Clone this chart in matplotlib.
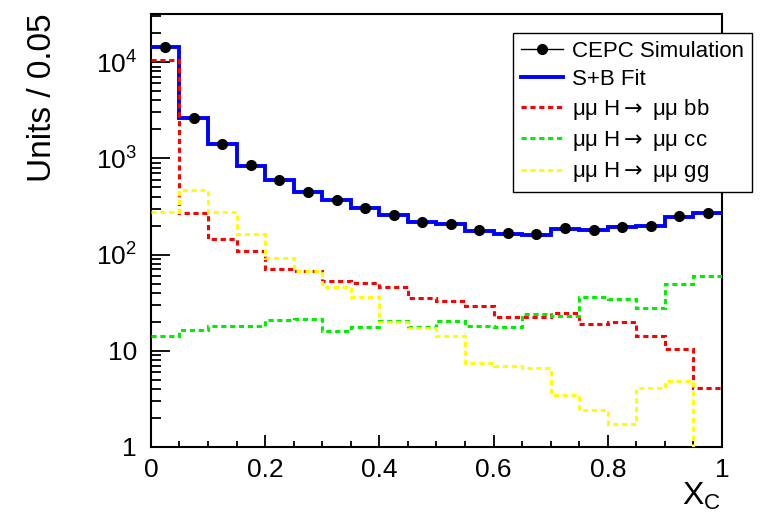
import numpy as np
import matplotlib
matplotlib.use("Agg")
import matplotlib.pyplot as plt
from matplotlib.lines import Line2D
from matplotlib.ticker import FixedLocator, LogLocator, FuncFormatter, MultipleLocator

plt.rcParams["font.family"] = ["Liberation Sans", "DejaVu Sans"]
plt.rcParams["mathtext.fontset"] = "custom"
plt.rcParams["mathtext.rm"] = "Liberation Sans"
plt.rcParams["mathtext.it"] = "Liberation Sans:italic"
plt.rcParams["mathtext.sf"] = "DejaVu Sans"

# ----------------------
# Data (20 bins of width 0.05 in X_C)
# ----------------------
bin_edges = np.linspace(0.0, 1.0, 21)
bin_centers = (bin_edges[:-1] + bin_edges[1:]) / 2

cepc_sim = [14300, 2650, 1420, 845, 590, 446, 365, 306, 256, 217,
            209, 178, 167, 162, 188, 179, 195, 200, 249, 272]
sb_fit = [14300, 2650, 1400, 840, 590, 445, 365, 305, 255, 217,
          207, 177, 165, 161, 186, 178, 193, 198, 246, 270]
h_bb = [10500, 268, 146, 108, 71, 67, 53.6, 50.3, 45.6, 35.4,
        32.6, 28.9, 22.2, 22.2, 24.5, 19.0, 19.9, 14.1, 10.4, 4.15]
h_cc = [14.1, 16.4, 18.0, 18.2, 20.9, 21.5, 16.2, 17.8, 20.5, 17.5,
        20.2, 17.9, 17.5, 24.1, 23.2, 35.9, 34.2, 27.6, 49.5, 60.0]
h_gg = [274, 472, 274, 165, 92, 67, 45.6, 36, 19.8, 17.2,
        14.2, 7.4, 7.0, 6.6, 3.48, 2.41, 1.72, 4.15, 4.87, 0]

arrow = r"$\mathsf{\rightarrow}$"
labels = ["CEPC Simulation", "S+B Fit",
          "\u03bc\u03bc H" + arrow + " \u03bc\u03bc bb",
          "\u03bc\u03bc H" + arrow + " \u03bc\u03bc cc",
          "\u03bc\u03bc H" + arrow + " \u03bc\u03bc gg"]

# ----------------------
# Plot
# ----------------------
fig = plt.figure(figsize=(7.66, 5.25), dpi=100)
ax = fig.add_axes([0.197, 0.1486, 0.7456, 0.8247])
ax.set_yscale("log", nonpositive="clip")

dot = (1.7, 1.2)
ax.stairs(sb_fit, bin_edges, baseline=None, color="#0000ff", lw=2.8, zorder=3)
ax.stairs(h_bb, bin_edges, baseline=None, color="#ff0000", lw=2.2,
          linestyle=(0, dot), zorder=4)
ax.stairs(h_cc, bin_edges, baseline=None, color="#00ee00", lw=2.2,
          linestyle=(0, dot), zorder=4)
ax.stairs(h_gg, bin_edges, baseline=None, color="#ffff00", lw=2.2,
          linestyle=(0, dot), zorder=4)
ax.plot(bin_centers, cepc_sim, "o", color="black", ms=7, zorder=5)

ax.set_xlim(0, 1)
ax.set_ylim(1, 10 ** 4.5)

# ticks
ax.xaxis.set_major_locator(MultipleLocator(0.2))
ax.xaxis.set_minor_locator(MultipleLocator(0.05))
ax.xaxis.set_major_formatter(FuncFormatter(lambda v, p: f"{v:g}"))
ax.yaxis.set_major_locator(FixedLocator([1, 10, 100, 1000, 10000]))
ax.yaxis.set_minor_locator(LogLocator(base=10, subs=np.arange(2, 10), numticks=20))


def ylab(v, p):
    if v == 1:
        return "1"
    if v == 10:
        return "10"
    return r"$10^{%d}$" % int(round(np.log10(v)))


ax.yaxis.set_major_formatter(FuncFormatter(ylab))
ax.yaxis.set_minor_formatter(FuncFormatter(lambda v, p: ""))
ax.tick_params(axis="both", which="both", direction="in", top=False, right=False,
               width=1.3, labelsize=19)
ax.tick_params(axis="x", which="major", length=8.5, pad=8)
ax.tick_params(axis="x", which="minor", length=4.5)
ax.tick_params(axis="y", which="major", length=14, pad=10)
ax.tick_params(axis="y", which="minor", length=7.5)
for sp in ax.spines.values():
    sp.set_linewidth(1.5)

# axis titles (ROOT style, at the axis ends)
fig.text(0.055, 0.975, "Units / 0.05", rotation=90, ha="center", va="top", fontsize=24)
fig.text(0.941, 0.025, r"X$_\mathrm{C}$", ha="right", va="bottom", fontsize=23)

# legend
handles = [
    Line2D([], [], color="black", lw=1, marker="o", ms=7),
    Line2D([], [], color="#0000ff", lw=2.8),
    Line2D([], [], color="#ff0000", lw=2.2, linestyle=(0, dot)),
    Line2D([], [], color="#00ee00", lw=2.2, linestyle=(0, dot)),
    Line2D([], [], color="#ffff00", lw=2.2, linestyle=(0, dot)),
]
leg = fig.legend(handles, labels, loc="upper left", bbox_to_anchor=(0.6697, 0.937),
                 bbox_transform=fig.transFigure, fontsize=16, frameon=True,
                 fancybox=False, framealpha=1, edgecolor="black", borderaxespad=0,
                 handlelength=1.9, handletextpad=0.4, labelspacing=0.32,
                 borderpad=0.35)
leg.get_frame().set_linewidth(1.0)
leg.set_zorder(10)

fig.savefig("out.png", dpi=100)
